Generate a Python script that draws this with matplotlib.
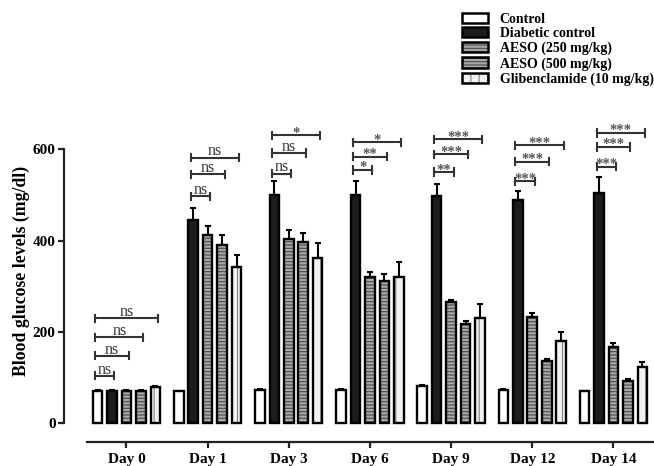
import numpy as np
import matplotlib.pyplot as plt
from matplotlib.patches import Patch

plt.rcParams['font.family'] = ['Liberation Serif', 'DejaVu Serif']
plt.rcParams['hatch.linewidth'] = 0.8

days = ['Day 0', 'Day 1', 'Day 3', 'Day 6', 'Day 9', 'Day 12', 'Day 14']
groups = ['Control', 'Diabetic control', 'AESO (250 mg/kg)',
          'AESO (500 mg/kg)', 'Glibenclamide (10 mg/kg)']

control = [71, 70, 73, 73, 82, 73, 70]
control_err = [1, 1, 1, 1, 1, 1, 1]
diabetic = [71, 445, 501, 501, 498, 490, 505]
diabetic_err = [2, 27, 30, 30, 26, 19, 35]
aeso250 = [70, 412, 403, 321, 266, 233, 168]
aeso250_err = [2, 20, 21, 11, 4, 8, 8]
aeso500 = [70, 390, 396, 312, 217, 136, 93]
aeso500_err = [2, 22, 21, 16, 8, 4, 4]
glib = [80, 343, 361, 320, 230, 180, 124]
glib_err = [2, 25, 33, 34, 31, 19, 11]

# significance brackets: reference group, labels and heights per day
sig_ref = [0, 1, 1, 1, 1, 1, 1]
sig_labels = [['ns', 'ns', 'ns', 'ns'], ['ns', 'ns', 'ns'], ['ns', 'ns', '*'],
              ['*', '**', '*'], ['**', '***', '***'], ['***', '***', '***'],
              ['***', '***', '***']]
sig_heights = [[104, 148, 188, 230], [497, 545, 582], [547, 592, 631],
               [555, 584, 615], [550, 589, 622], [530, 573, 609],
               [562, 605, 636]]

series = [(control, control_err), (diabetic, diabetic_err),
          (aeso250, aeso250_err), (aeso500, aeso500_err), (glib, glib_err)]
# facecolor, hatch, hatch colour
styles = [('white', None, None),
          ('#1c1c1c', None, None),
          ('#a8a8a8', '-----', '#4a4a4a'),
          ('#a8a8a8', '-----', '#4a4a4a'),
          ('#f2f2f2', '||', '#808080')]

fig = plt.figure(figsize=(6.54, 4.66), dpi=100)
ax = fig.add_axes([64 / 654, 24 / 466, 590 / 654, 342 / 466])

x = np.arange(len(days))
pitch = 0.178
width = 0.118
offsets = (np.arange(5) - 2) * pitch

for k, (vals, errs) in enumerate(series):
    xs = x + offsets[k]
    fc, hatch, hc = styles[k]
    ax.errorbar(xs, vals, yerr=[np.zeros(len(errs)), errs], fmt='none',
                ecolor='black', elinewidth=1.5, capsize=2.5, capthick=1.5, zorder=1)
    ax.bar(xs, vals, width, color=fc, edgecolor=hc if hatch else fc,
           hatch=hatch, linewidth=0, zorder=2)
    ax.bar(xs, vals, width, fill=False, edgecolor='black', linewidth=1.7, zorder=3)

# brackets
tick_h = 8
for d in range(len(days)):
    ref = sig_ref[d]
    x1 = x[d] + offsets[ref] - 0.03
    for j, (lab, h) in enumerate(zip(sig_labels[d], sig_heights[d])):
        x2 = x[d] + offsets[ref + 1 + j] + 0.03
        ax.plot([x1, x2], [h, h], color='#333333', lw=1.5, zorder=4)
        ax.plot([x1, x1], [h - tick_h, h + tick_h], color='#333333', lw=1.5, zorder=4)
        ax.plot([x2, x2], [h - tick_h, h + tick_h], color='#333333', lw=1.5, zorder=4)
        if lab == 'ns':
            ax.text((x1 + x2) / 2, h - 4, lab, ha='center', va='bottom',
                    fontsize=11.5, color='#333333')
        else:
            ax.text((x1 + x2) / 2, h - 3, lab, ha='center', va='baseline',
                    fontsize=10.5, fontweight='bold', color='#555555')

ax.set_xlim(-0.77, 6.5)
ax.set_ylim(-41, 708)
ax.set_yticks([0, 200, 400, 600])
ax.set_xticks(x)
ax.set_xticklabels(days)
for lab in ax.get_xticklabels() + ax.get_yticklabels():
    lab.set_fontweight('bold')
    lab.set_fontsize(11)
ax.spines['top'].set_visible(False)
ax.spines['right'].set_visible(False)
ax.spines['left'].set_bounds(0, 600)
ax.spines['bottom'].set_bounds(-0.49, 6.5)
for s in ('left', 'bottom'):
    ax.spines[s].set_linewidth(1.6)
    ax.spines[s].set_color('#222222')
ax.tick_params(width=1.6, length=4, color='#222222', pad=2)
ax.tick_params(axis='x', pad=4)
ax.set_ylabel('Blood glucose levels (mg/dl)', fontsize=12.8, fontweight='bold', labelpad=2)

handles = []
for fc, hatch, hc in styles:
    if hatch:
        handles.append((Patch(facecolor=fc, edgecolor=hc, hatch=hatch, linewidth=0),
                        Patch(fill=False, edgecolor='black', linewidth=1.8)))
    else:
        handles.append(Patch(facecolor=fc, edgecolor='black', linewidth=1.8))
fig.legend(handles, groups, loc='upper left', bbox_to_anchor=(0.698, 0.985),
           frameon=False, prop=dict(weight='bold', size=10), handlelength=1.9,
           handleheight=0.75, labelspacing=0.12, handletextpad=0.8, borderaxespad=0)

fig.savefig('out.png', dpi=100)
